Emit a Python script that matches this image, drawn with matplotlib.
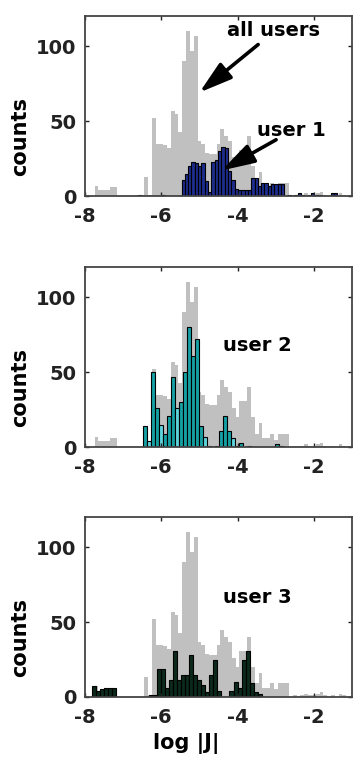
import numpy as np
import matplotlib
matplotlib.use("Agg")
import matplotlib.pyplot as plt

# histograms of log|J|: all users in grey, one user overlaid per panel
all_start, all_width = -7.75, 0.1
all_counts = [7, 4, 4, 4, 6, 6, 0, 0, 0, 0, 0, 0, 0, 13, 1, 52, 35, 35, 34, 32,
              57, 55, 43, 90, 110, 97, 107, 37, 35, 29, 28, 28, 35, 45, 40, 37, 26, 20, 31, 31,
              40, 20, 9, 16, 6, 6, 9, 5, 9, 9, 9, 0, 1, 0, 1, 2, 1, 1, 2, 3,
              1, 0, 1, 0, 2, 1]

user1_start, user1_width = -6.6, 0.087
user1_counts = [1, 0, 0, 0, 0, 0, 0, 1, 0, 0, 0, 0, 0,
                11, 15, 20, 23, 22, 20, 22, 10, 3, 23, 24, 30, 33, 32, 17, 11, 5, 4, 4, 4,
                4, 12, 12, 7, 9, 9, 7, 8, 8, 8, 8, 0, 1, 0, 1, 2, 1, 0, 1, 2, 1, 1, 0, 0, 0, 2, 2]

user2_start, user2_width = -6.49, 0.105
user2_counts = [14, 4, 50, 26, 15, 9, 21, 47, 26, 30, 50, 80, 61, 72, 14, 7, 1, 0, 1, 11,
                21, 11, 6, 1, 3, 0, 1, 0, 0, 0, 0, 0, 0, 2, 1]

user3_start, user3_width = -7.816, 0.106
user3_counts = [7, 4, 5, 6, 6, 6, 0, 0, 0, 0, 0, 0, 0, 0, 1, 1, 19, 19, 6, 11,
                31, 11, 15, 15, 28, 15, 11, 8, 3, 15, 25, 4, 0, 0, 4, 10, 6, 25, 31, 9, 3, 2]

labels = ["user 1", "user 2", "user 3"]

plt.rcParams["font.family"] = "DejaVu Sans"
plt.rcParams["font.weight"] = "bold"
plt.rcParams["axes.unicode_minus"] = False

grey = "#c0c0c0"
# a few of the cyan bars come out paler
pale_cyan = "#5fd3dc"
pale_bins = [1, 4, 8, 15, 22]


def edges(start, width, n):
    return start + width * np.arange(n + 1)


fig = plt.figure(figsize=(3.55, 7.6), dpi=100)
bottoms = [0.7421, 0.4118, 0.0829]
users = [(user1_start, user1_width, user1_counts, "#1c2d8c"),
         (user2_start, user2_width, user2_counts, "#16a0a4"),
         (user3_start, user3_width, user3_counts, "#0c2a1c")]
text_pos = [(-2.58, 39.7), (-3.48, 63.8), (-3.48, 62.7)]

axes = []
for i, (start, width, counts, color) in enumerate(users):
    ax = fig.add_axes([0.2394, bottoms[i], 0.7521, 0.2368])
    ax.stairs(all_counts, edges(all_start, all_width, len(all_counts)),
              fill=True, color=grey, linewidth=0)
    e = edges(start, width, len(counts))
    colors = [color] * len(counts)
    if i == 1:
        for j in pale_bins:
            colors[j] = pale_cyan
    ax.bar(e[:-1], counts, width=width, align="edge",
           color=colors, edgecolor="black", linewidth=0.8)
    ax.set_xlim(-8, -1)
    ax.set_ylim(0, 120)
    ax.set_xticks([-8, -6, -4, -2])
    ax.set_yticks([0, 50, 100])
    ax.tick_params(direction="in", length=3, width=1, top=True, right=True,
                   labelsize=14, colors="#222222")
    ax.tick_params(axis="x", pad=8)
    ax.tick_params(axis="y", pad=6)
    for s in ax.spines.values():
        s.set_color("#444444")
        s.set_linewidth(1.3)
    ax.set_ylabel("counts", fontsize=15, fontweight="bold")
    ax.yaxis.set_label_coords(-0.205, 0.33)
    tx, ty = text_pos[i]
    ax.text(tx, ty, labels[i], fontsize=14, fontweight="bold", ha="center", va="baseline")
    axes.append(ax)

# pointers in the top panel
arrow = dict(arrowstyle="-|>,head_length=1.0,head_width=0.3", color="black",
             lw=2.6, mutation_scale=20, shrinkA=0, shrinkB=0)
axes[0].text(-3.07, 107, "all users", fontsize=14, fontweight="bold", ha="center", va="baseline")
axes[0].annotate("", xy=(-5.0, 69), xytext=(-3.46, 101), arrowprops=arrow)
axes[0].annotate("", xy=(-4.42, 17), xytext=(-2.99, 37.5), arrowprops=arrow)

axes[2].set_xlabel("log |J|", fontsize=15, fontweight="bold")
axes[2].xaxis.set_label_coords(0.38, -0.2)

fig.savefig("out.png", dpi=100)
